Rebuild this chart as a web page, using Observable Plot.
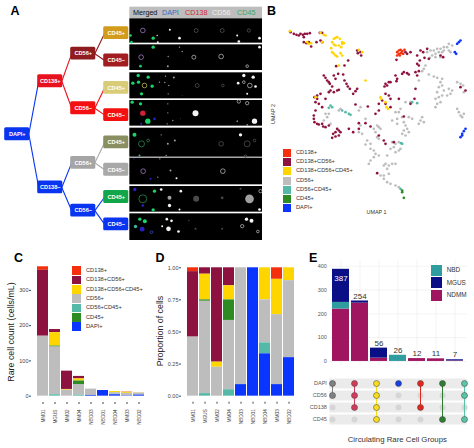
<!DOCTYPE html>
<html><head><meta charset="utf-8">
<script src="https://cdn.jsdelivr.net/npm/d3@7"></script>
<script src="https://cdn.jsdelivr.net/npm/@observablehq/plot@0.6"></script>
<style>
html,body{margin:0;padding:0;background:#fff}
#page{position:relative;width:474px;height:448px;overflow:hidden;font-family:"Liberation Sans",Arial,sans-serif}
#page svg{position:absolute;background:transparent}
.t{position:absolute;white-space:nowrap;line-height:1}
</style></head><body><div id="page"></div>
<script>
// ---------- Panel C / D data ----------
const samples = ["MM01","MGUS","MM02","MM04","NBD03","NBD01","NBD04","MM03","NBD02"];
const cellGroups = ["CD138+","CD138+CD56+","CD138+CD56+CD45+","CD56+","CD56+CD45+","CD45+","DAPI+"];
const groupColors = ["#f4300c","#8e1240","#ffd500","#bdbdbd","#55b9a8","#2e8b23","#0a35ff"];
const stackOrder = ["DAPI+","CD56+CD45+","CD56+","CD45+","CD138+CD56+CD45+","CD138+CD56+","CD138+"];
const countCD138   = [10,0,0,0,0,0,0,1,0];
const countCD138_56= [187,9,52,7,0,0,0,0,0];
const countTriple  = [0,38,2,6,0,0,3,3,1];
const countCD56    = [170,136,17,30,18,0,5,7,6];
const countCD56_45 = [0,4,0,3,0,0,1,0,0];
const countCD45    = [0,2,0,10,0,0,0,0,0];
const countDAPI    = [0,0,0,0,2,16,4,1,3];
const propCD138    = [.03,0,0,0,0,0,0,.09,0];
const propCD138_56 = [.51,.05,.735,.14,0,0,0,0,0];
const propTriple   = [0,.20,.04,.11,0,0,.25,.275,.10];
const propCD56     = [.46,.72,.225,.54,.91,0,.335,.545,.60];
const propCD56_45  = [0,.02,0,.05,0,0,.085,0,0];
const propCD45     = [0,.01,0,.16,0,0,0,0,0];
const propDAPI     = [0,0,0,0,.09,1,.33,.09,.30];
// ---------- Panel E data ----------
const combos = ["DAPI·CD56","DAPI·CD56·CD138","All four","DAPI","DAPI·CD138","DAPI·CD45","DAPI·CD56·CD45"];
const comboTotals = [387,254,56,26,12,11,7];
const cohorts = ["NDMM","NBD","MGUS"];
const cohortColors = ["#a01560","#2f9ca0","#0b0f85"];
const legendCohorts = ["NBD","MGUS","NDMM"];
const legendCohortColors = ["#2f9ca0","#0b0f85","#a01560"];
const ndmm = [220,245,14,0,12,11,2];
const nbd  = [28,0,0,26,0,0,0];
const mgus = [139,9,42,0,0,0,5];
const markers = ["DAPI","CD56","CD138","CD45"];
const comboMembers = [["DAPI","CD56"],["DAPI","CD56","CD138"],["DAPI","CD56","CD138","CD45"],["DAPI"],["DAPI","CD138"],["DAPI","CD45"],["DAPI","CD56","CD45"]];
const comboColors = ["#808080","#d13b5b","#f5dc1e","#1a3fe0","#e0281e","#2e7d32","#5bc4a8"];
// ---------- Panel A data ----------
const nodeNames  = ["DAPI+","CD138+","CD138−","CD56+","CD56−","CD56+","CD56−","CD45+","CD45−","CD45+","CD45−","CD45+","CD45−","CD45+","CD45−"];
const nodeLevels = [0,1,1,2,2,2,2,3,3,3,3,3,3,3,3];
const nodeRows   = [3.7,1.76,5.65,.75,2.75,4.75,6.5,0,1,2,3,4,5,6,7];
const nodeColors = ["#0a35f0","#e8121e","#0a35f0","#8f1d1f","#f41010","#a5a5a5","#0a35f0","#d39b1c","#a11d20","#d8cc78","#f41010","#8a8f62","#a8a8a8","#12a64a","#0a35f0"];
const nodeParents= [-1,0,0,1,1,2,2,3,3,4,4,5,5,6,6];
const channelNames = ["Merged","DAPI","CD138","CD56","CD45"];
const channelColors= ["#111","#2f6fc0","#d9263a","#f0f0f0","#3aa56a"];
const channelSpots = [133,162,185,212,237];
const panelEdges = [[55,128],[133,210],[217,295],[300,377],[383,470],[473,553],[558,635],[640,720]];
// spots: x, y, size
const spotsGreen = [[15,105,4],[18,125,4],[83,113,5],[83,140,5],[45,197,4],[38,225,5],[68,230,5],[22,248,5],[39,245,5],[80,257,5],[48,280,5],[20,305,5],[45,310,5],[67,362,8],[27,403,6],[87,572,5],[83,628,5],[43,656,5],[58,662,6]];
const spotsTeal = [[42,465,3],[30,678,5]];
const spotsWhite = [[133,88,3],[95,105,2],[162,113,4],[97,125,3],[335,105,3],[340,123,4],[402,113,4],[402,140,4],[355,225,5],[383,230,5],[338,248,4],[390,258,4],[365,280,3],[210,338,9],[335,362,2],[387,362,8],[365,373,2],[345,403,5],[153,533,3],[107,567,4],[166,572,4],[132,615,5],[162,627,3],[402,627,4],[124,656,4],[138,661,4],[110,677,3],[129,685,7],[159,693,4],[363,656,5],[378,661,6]];
const spotsGrey = [[162,140,2],[170,153,2],[128,168,2],[127,197,3],[120,227,2],[145,231,3],[102,245,2],[118,246,2],[130,255,2],[128,280,2],[170,285,1],[127,310,2],[127,337,2],[142,360,2],[125,370,2],[165,355,1],[107,403,2],[148,420,3],[127,430,3],[122,465,2],[103,475,2],[135,510,3],[97,530,2],[132,592,6],[372,595,13]];
const spotsDim = [[212,595,9],[290,592,4],[345,565,3],[210,685,3],[290,685,3],[190,660,2]];
const spotsBlue = [[87,355,4],[47,370,3],[25,475,2],[75,535,3],[28,567,5],[52,615,4],[50,686,7]];
const spotsRed = [[52,338,8]];
const ringsWhite = [[340,303,5],[365,308,5],[355,245,4],[373,255,7],[292,512,7],[405,572,5],[350,677,5],[397,693,4],[365,197,4],[287,168,7],[205,170,6]];
const ringsGrey = [[212,90,6],[290,90,6],[370,90,5],[215,255,6],[292,255,4],[287,430,7],[365,430,9],[387,420,4],[360,467,4]];
const ringsPurple = [[52,90,7],[47,170,7],[53,512,7]];
const ringsGreen = [[48,430,9],[68,420,4],[52,595,12]];
const ringsYellow = [[57,255,7]];
const ringsBlue = [[78,695,4]];
// ---------- Panel B data ----------
const umapRed = [[380,155],[385,150],[390,148],[395,152],[402,148],[385,160],[392,158],[380,165],[388,165],[398,160]];
const umapDark = [[60,95],[70,100],[78,103],[85,105],[90,100],[97,103],[103,100],[110,100],[118,98],[100,110],[100,125],[108,128],[115,125],[122,138],[148,97],[155,97],[150,120],[155,125],[138,125],[260,150],[270,155],[262,158],[272,165],[378,178],[405,155],[420,155],[410,160],[450,150],[458,155],[470,145],[440,165],[448,180],[462,172],[475,175],[440,190],[445,195],[435,215],[445,212],[440,225],[400,215],[410,218],[415,222],[395,220],[375,225],[380,235],[378,242],[345,250],[350,255],[360,245],[342,258],[355,245],[510,165],[518,170],[233,180],[222,195],[197,197],[203,220],[190,225],[195,235],[160,225],[165,232],[170,240],[175,245],[178,250],[185,258],[180,270],[175,275],[190,275],[200,270],[205,268],[218,222],[222,240],[228,250],[232,258],[238,265],[260,265],[255,272],[248,280],[150,280],[140,285],[132,290],[140,295],[165,295],[135,305],[145,310],[135,330],[155,320],[130,345],[130,355],[132,365],[140,370],[145,372],[155,370],[158,378],[165,380],[175,375],[200,385],[205,390],[195,395],[188,400],[185,412],[195,408],[205,405],[210,395],[235,385],[248,395],[265,368],[285,368],[300,378],[255,312],[292,318],[315,340],[325,330],[325,310],[335,300],[345,280],[355,285],[345,310],[360,295],[385,295],[360,320],[435,265],[432,295],[420,310],[400,348],[265,385],[325,405],[340,420],[345,430],[370,425],[320,518],[570,260],[585,270]];
const umapYellow = [[58,92],[115,130],[122,128],[150,97],[160,103],[165,105],[110,125],[190,115],[195,112],[200,110],[208,115],[215,125],[220,128],[185,125],[190,132],[195,135],[205,135],[212,140],[215,130],[185,155],[190,160],[195,165],[200,168],[210,158],[215,165],[182,143],[155,125],[205,195],[265,148],[275,155],[285,240],[135,290],[330,290],[332,295],[345,305],[348,320],[352,325]];
const umapGrey = [[535,130],[545,135],[530,140],[520,140],[510,145],[500,145],[490,150],[480,150],[470,155],[495,160],[505,155],[515,155],[520,150],[485,165],[478,172],[495,170],[510,170],[540,155],[535,150],[465,195],[460,205],[455,212],[445,240],[475,222],[490,228],[500,232],[515,235],[510,245],[515,255],[505,260],[500,275],[495,295],[505,290],[515,285],[510,305],[500,310],[495,320],[520,270],[535,265],[545,270],[540,280],[530,285],[560,245],[570,250],[578,255],[580,275],[560,325],[565,335],[570,345],[575,350],[580,340],[405,305],[420,305],[390,325],[385,335],[375,335],[365,360],[380,355],[395,350],[415,350],[425,355],[445,370],[450,360],[455,350],[460,365],[400,365],[405,375],[410,385],[400,390],[395,400],[405,405],[415,395],[380,370],[365,425],[375,430],[385,425],[390,445],[385,450],[375,455],[350,465],[370,440],[360,445],[340,495],[345,490],[355,495],[365,490],[350,505],[355,520],[340,525],[375,490],[270,320],[265,330],[285,355],[265,395],[275,400],[290,420],[300,430],[285,432],[300,445],[310,450],[315,460],[325,465],[310,470],[300,480],[295,490],[320,375],[325,380],[330,385],[310,385],[315,395],[320,410],[325,415],[270,375],[175,340],[170,350],[165,340],[180,370],[160,360],[210,325],[205,330],[330,525],[340,535],[350,545],[360,550],[375,555],[385,560]];
const umapTeal = [[180,315],[185,320],[175,322],[215,330],[225,335],[235,340],[240,343],[395,430],[392,428],[425,305],[440,308],[390,565]];
const umapGreen = [[400,592],[395,570],[395,575]];
const umapBlue = [[570,120],[565,125],[560,130],[553,155],[557,160],[585,385],[580,392],[575,400],[570,410],[575,405]];

// ---------- helpers ----------
const page = document.getElementById("page");
const FONT = '"Liberation Sans",Arial,sans-serif';
function place(opts, left, top){
  const svg = Plot.plot({style:{fontFamily:FONT,background:"transparent",overflow:"visible"},...opts});
  svg.style.left = left+"px"; svg.style.top = top+"px";
  page.appendChild(svg); return svg;
}
function text(str,x,y,size,o={}){
  const d=document.createElement("div"); d.className="t"; d.textContent=str;
  Object.assign(d.style,{left:x+"px",top:y+"px",fontSize:size+"px",color:o.color||"#222",fontWeight:o.bold?"bold":"normal"});
  if(o.transform) d.style.transform=o.transform;
  page.appendChild(d); return d;
}
const vtext=(str,x,y,size,color)=>text(str,x,y,size,{color,transform:"translate(-50%,-50%) rotate(-90deg)"});
function legend(items,colors,x,y0,step,sw,h,tx,size){
  items.forEach((n,i)=>{
    const s=document.createElement("div");
    Object.assign(s.style,{position:"absolute",left:x+"px",top:(y0+i*step-h/2)+"px",width:sw+"px",height:h+"px",background:colors[i]});
    page.appendChild(s);
    text(n,tx,y0+i*step-size/2,size,{color:"#333"});
  });
}
const table = (cats,names,columns)=>cats.flatMap((c,i)=>names.map((g,j)=>({c,g,v:columns[j][i]}))).filter(d=>d.v>0);

// ---------- Panel letters ----------
text("A",10.5,5,12.5,{bold:true,color:"#000"});
text("B",267,5,12.5,{bold:true,color:"#000"});
text("C",14,252,12.5,{bold:true,color:"#000"});
text("D",155.5,252,12.5,{bold:true,color:"#000"});
text("E",309,252,12.5,{bold:true,color:"#000"});

// ---------- Panel A: tree ----------
const nodes = nodeNames.map((name,i)=>({name,level:nodeLevels[i],row:nodeRows[i],color:nodeColors[i],parent:nodeParents[i]}));
const links = nodes.filter(n=>n.parent>=0).map(n=>({p:nodes[n.parent],c:n}));
const boxW=.76, boxH=.235;
place({width:130,height:240,marginLeft:4.2,marginRight:0,marginTop:0,marginBottom:0,
  x:{domain:[0,3.812],axis:null},y:{domain:[-1.198,7.593],range:[0,240],axis:null},
  marks:[
    Plot.link(links,{x1:d=>d.p.level+boxW-.03,y1:d=>d.p.row,x2:d=>d.c.level+.03,y2:d=>d.c.row,stroke:d=>d.p.color,strokeWidth:1.1}),
    Plot.rect(nodes,{x1:"level",x2:d=>d.level+boxW,y1:d=>d.row-boxH,y2:d=>d.row+boxH,fill:"color",rx:1.5,ry:1.5}),
    Plot.text(nodes,{x:d=>d.level+boxW/2,y:"row",text:"name",fill:"white",fontSize:5.6,fontWeight:"bold"})
  ]},0,0);

// ---------- Panel A: image strip ----------
const spotLayers = [
  [spotsDim,"#4a4a4a",false],[spotsGrey,"#a0a0a0",false],[spotsWhite,"#f4f4f4",false],[spotsGreen,"#19d66b",false],
  [spotsTeal,"#3ab8a0",false],[spotsBlue,"#2a22c8",false],[spotsRed,"#d5203a",false],
  [ringsGrey,"#5a5a5a",true],[ringsWhite,"#c8c8c8",true],[ringsPurple,"#b28ad8",true],[ringsGreen,"#2a9a58",true],[ringsYellow,"#d7d050",true],[ringsBlue,"#3a55c8",true]
];
const strip = place({width:140,height:240,margin:0,
  x:{domain:[0,420],axis:null},y:{domain:[0,720],range:[0,240],axis:null},r:{type:"identity"},
  marks:[
    Plot.rect([[20,55]],{x1:13,x2:411,y1:d=>d[0],y2:d=>d[1],fill:"#bdbdbd"}),
    Plot.rect(panelEdges,{x1:13,x2:411,y1:d=>d[0],y2:d=>d[1],fill:"black"}),
    ...spotLayers.map(([data,col,ring])=>Plot.dot(data,{x:d=>d[0],y:d=>d[1],r:d=>d[2]/3,[ring?"stroke":"fill"]:col,strokeWidth:ring?.7:0}))
  ]},125,0);
strip.style.filter="blur(.35px)";
channelNames.forEach((n,i)=>text(n,channelSpots[i],8.5,7.2,{color:channelColors[i]}));

// ---------- Panel B ----------
const umapLayers = [[umapGrey,groupColors[3]],[umapTeal,groupColors[4]],[umapDark,groupColors[1]],[umapYellow,groupColors[2]],[umapRed,groupColors[0]],[umapGreen,groupColors[5]],[umapBlue,groupColors[6]]];
place({width:204,height:240,margin:0,
  x:{domain:[0,612],axis:null},y:{domain:[0,720],range:[0,240],axis:null},
  marks:umapLayers.map(([data,col])=>Plot.dot(data,{x:d=>d[0],y:d=>d[1],r:1.35,fill:col}))
},270,0);
legend(cellGroups,groupColors,282.7,152.7,9.27,8,8,296,5.7);
text("UMAP 1",366.5,209.5,5.4,{color:"#333"});
vtext("UMAP 2",274,114,5.4,"#333");

// ---------- Panels C and D ----------
const dataC = table(samples,cellGroups,[countCD138,countCD138_56,countTriple,countCD56,countCD56_45,countCD45,countDAPI]);
const dataD = table(samples,cellGroups,[propCD138,propCD138_56,propTriple,propCD56,propCD56_45,propCD45,propDAPI]);
const colorScale = {domain:cellGroups,range:groupColors};
function stackPlot(data,dom,ticks,fmt,m,w,left){
  return place({width:w,height:203,...m,
    x:{domain:samples,padding:.12,label:null},
    y:{domain:dom,label:null},color:colorScale,
    marks:[
      Plot.barY(data,{x:"c",y:"v",fill:"g",order:stackOrder}),
      Plot.axisY({color:"#444",fontSize:5.5,tickSize:2,tickPadding:1,ticks,tickFormat:fmt,label:null,line:true}),
      Plot.axisX({color:"#444",fontSize:4.7,tickSize:2,tickRotate:-90,label:null,line:true,tickPadding:5})
    ]},left,245);
}
stackPlot(dataC,[-18,382],[0,100,200,300],d3.format("d"),{marginLeft:31,marginRight:5.8,marginTop:16,marginBottom:46},155,0);
stackPlot(dataD,[-.047,1.049],[0,.25,.5,.75,1],d3.format(".2f"),{marginLeft:26,marginRight:16.4,marginTop:16,marginBottom:46.3},160,155);
legend(cellGroups,groupColors,72.3,270.7,9.33,8.3,8.6,86,5.7);
vtext("Rare cell count (cells/mL)",11,331.5,8.8,"#222");
vtext("Proportion of cells",159.5,331,8.8,"#222");

// ---------- Panel E ----------
const dataE = table(combos,cohorts,[ndmm,nbd,mgus]);
const totals = combos.map((c,i)=>({c,t:comboTotals[i]}));
place({width:164,height:125,marginLeft:19.4,marginRight:7.4,marginTop:15,marginBottom:5,
  x:{domain:combos,padding:.1,axis:null},y:{domain:[-17,424],label:null},
  color:{domain:cohorts,range:cohortColors},
  marks:[
    Plot.gridX({stroke:"#e6e6e6",strokeOpacity:1,strokeWidth:.5}),
    Plot.gridY({ticks:[0,100,200,300,400],stroke:"#e6e6e6",strokeOpacity:1,strokeWidth:.5}),
    Plot.barY(dataE,{x:"c",y:"v",fill:"g",order:cohorts}),
    Plot.axisY({color:"#555",fontSize:5.5,tickSize:0,tickPadding:3,ticks:[0,100,200,300,400],label:null}),
    Plot.text(totals.slice(0,1),{x:"c",y:d=>d.t,text:"t",fill:"white",fontSize:8,dy:9.5}),
    Plot.text(totals.slice(1),{x:"c",y:"t",text:"t",fill:"#333",fontSize:8,dy:-5})
  ]},310,245);
const memberDots = combos.flatMap((c,i)=>comboMembers[i].map(m=>({c,m,col:comboColors[i]})));
const memberLines = combos.map((c,i)=>({c,m1:comboMembers[i][0],m2:comboMembers[i][comboMembers[i].length-1],col:comboColors[i]})).filter(d=>d.m1!==d.m2);
place({width:164,height:78,marginLeft:19.4,marginRight:7.4,marginTop:6.7,marginBottom:23.3,
  x:{domain:combos,padding:.1,axis:null},y:{type:"point",domain:markers,padding:.5,label:null},
  marks:[
    Plot.ruleY(markers,{y:d=>d,stroke:"#ebebeb",strokeWidth:10}),
    Plot.dot(combos.flatMap(c=>markers.map(m=>({c,m}))),{x:"c",y:"m",r:3,fill:"#d6d6d6"}),
    Plot.ruleX(memberLines,{x:"c",y1:"m1",y2:"m2",stroke:"col",strokeWidth:1}),
    Plot.dot(memberDots,{x:"c",y:"m",r:3,fill:"col",stroke:"#444",strokeWidth:.5}),
    Plot.axisY({color:"#555",fontSize:5.5,tickSize:0,tickPadding:3,label:null})
  ]},310,370);
legend(legendCohorts,legendCohortColors,430.7,270.3,12.6,11.3,11,446.7,6.4);
text("Circulating Rare Cell Groups",347.7,436,7.8,{color:"#333"});
</script></body></html>
